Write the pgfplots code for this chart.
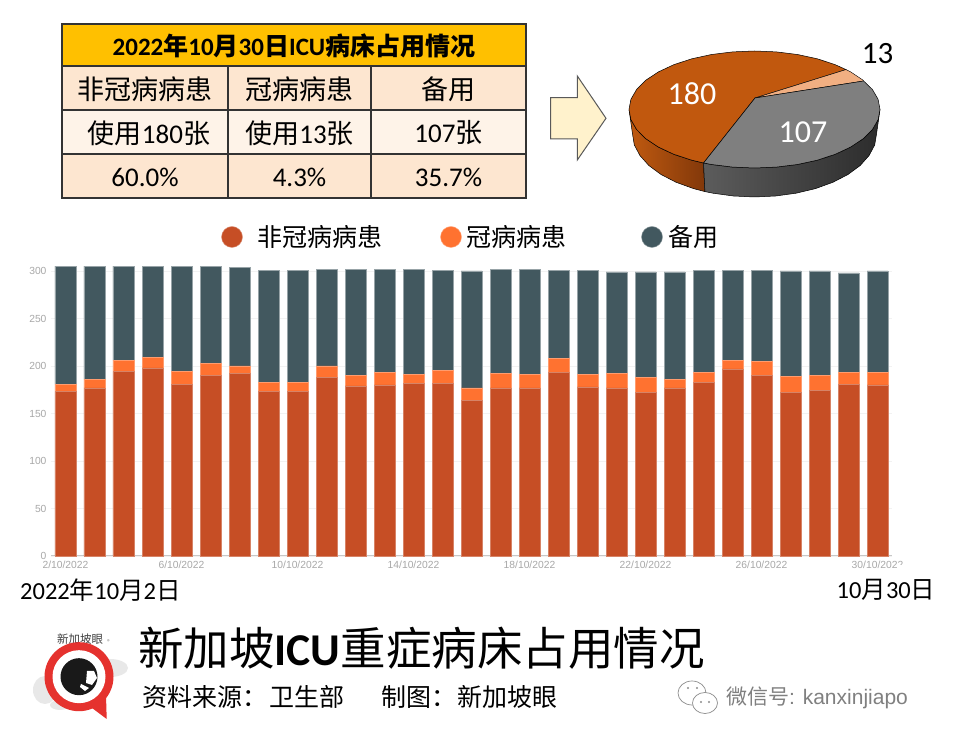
\documentclass[border=0pt]{standalone}
\usepackage{fontspec}
\usepackage{pgfplots}
\usepackage{pgfplotstable}
\pgfplotsset{compat=1.18}
\setmainfont{Carlito}
\newfontfamily\cj{Noto Sans CJK SC}
\newfontfamily\ar{Liberation Sans}
\newcommand{\fs}[1]{\fontsize{#1}{#1}\selectfont}
\definecolor{cred}{HTML}{C64E25}
\definecolor{corg}{HTML}{FF7230}
\definecolor{cdark}{HTML}{42585F}
\definecolor{tickg}{HTML}{A8A8A8}
\definecolor{pieR}{RGB}{193,88,14}
\definecolor{pieRa}{RGB}{192,90,16}
\definecolor{pieRb}{RGB}{130,56,10}
\definecolor{pieGa}{RGB}{92,92,92}
\definecolor{pieGb}{RGB}{44,44,44}
\definecolor{pieO}{RGB}{241,175,130}
\definecolor{pieG}{RGB}{127,127,127}
\definecolor{tHead}{RGB}{255,192,0}
\definecolor{tA}{RGB}{253,230,208}
\definecolor{tB}{RGB}{254,243,232}
\definecolor{arrowF}{RGB}{255,242,204}
\definecolor{logoR}{RGB}{229,50,46}
\pgfplotstableread{
day noncovid covid spare
2 173 8 124
3 177 9 119
4 194 12 99
5 198 11 96
6 181 13 111
7 190 13 102
8 192 8 104
9 173 10 118
10 173 10 118
11 188 12 102
12 179 11 112
13 180 13 109
14 182 9 111
15 182 13 106
16 164 13 123
17 177 15 110
18 177 14 111
19 193 15 93
20 178 13 110
21 177 15 107
22 172 16 111
23 177 9 113
24 183 10 108
25 197 9 95
26 190 15 96
27 172 17 111
28 174 16 110
29 181 12 105
30 180 13 107
}\beds
\begin{document}
\begin{tikzpicture}
\useasboundingbox (0,0) rectangle (959pt,741pt);
\fill[white] (0,0) rectangle (959pt,741pt);
% ---------- stacked bars
\begin{axis}[
  at={(51pt,185pt)}, anchor=south west,
  scale only axis, width=841pt, height=289.75pt,
  xmin=1.5, xmax=30.5, ymin=0, ymax=305,
  ybar stacked, bar width=21pt, clip=false,
  axis x line*=bottom, axis y line*=left,
  y axis line style={draw=none},
  x axis line style={draw=black!22, line width=1pt, -},
  xtick={2,6,10,14,18,22,26,30},
  xticklabels={2/10/2022,6/10/2022,10/10/2022,14/10/2022,18/10/2022,22/10/2022,26/10/2022,30/10/2022},
  ytick={0,50,100,150,200,250,300},
  xtick style={draw=black!22, line width=.8pt},
  ytick style={draw=none},
  major tick length=5pt,
  ymajorgrids, grid style={draw=black!5, line width=.7pt},
  tick label style={font=\ar\fs{10.3}, text=tickg},
  /pgf/number format/assume math mode=true,
  xticklabel style={yshift=-1.5pt},
  yticklabel style={xshift=-1pt},
]
\addplot[fill=cred, draw=cred!70!white, line width=.6pt] table[x=day,y=noncovid] {\beds};
\addplot[fill=corg, draw=corg!70!white, line width=.6pt] table[x=day,y=covid] {\beds};
\addplot[fill=cdark, draw=cdark!55!white, line width=.6pt] table[x=day,y=spare] {\beds};
\end{axis}
% ---------- pixel canvas axis: pie and legend discs
\begin{axis}[
  at={(0,0)}, anchor=south west,
  scale only axis, width=959pt, height=741pt,
  xmin=0, xmax=959, ymin=0, ymax=741, y dir=reverse,
  hide axis, clip=false, no markers,
]
% side of the pie
\addplot[left color=pieRa, right color=pieRb, draw=black, line width=.5pt] coordinates {
(629,109.5)(630.9,119.7)(636.6,129.5)(645.8,138.75)(658.4,147.1)(673.8,154.3)(691.8,160.2)(703.5,163)
(704.9,191.6)(693.5,188.6)(676.1,182.3)(661,174.5)(648.8,165.5)(639.9,155.5)(634.3,144.9)(632.5,134)(629,109.5)};
\addplot[left color=pieGa, right color=pieGb, draw=black, line width=.5pt] coordinates {
(703.5,163)(711.6,164.5)(732.7,167.1)(754.5,168)(776.3,167.1)(797.4,164.5)(817.3,160.2)(835.2,154.3)(850.6,147.1)(863.2,138.75)(872.4,129.5)(878.1,119.7)(880,109.5)
(876.5,134)(874.7,144.9)(869.1,155.5)(860.2,165.5)(848,174.5)(832.9,182.3)(815.5,188.6)(796.2,193.2)(775.7,196)(754.5,197)(733.3,196)(712.8,193.2)(704.9,191.6)(703.5,163)};
% top of the pie
\addplot[fill=pieR, draw=black, line width=.5pt] coordinates {
(755,98)(846,69.6)(835.2,64.7)(817.3,58.8)(797.4,54.5)(776.3,51.9)(754.5,51)(732.7,51.9)(711.6,54.5)(691.8,58.8)(673.8,64.7)(658.4,71.9)(645.8,80.25)(636.6,89.5)(630.9,99.3)(629,109.5)(630.9,119.7)(636.6,129.5)(645.8,138.75)(658.4,147.1)(673.8,154.3)(691.8,160.2)(703.5,163)(755,98)};
\addplot[fill=pieO, draw=black, line width=.4pt] coordinates {
(755,98)(846,69.6)(850.6,71.9)(863.2,80.25)(863.6,81)(755,98)};
\addplot[fill=pieG, draw=black, line width=.5pt] coordinates {
(755,98)(863.6,81)(872.4,89.5)(878.1,99.3)(880,109.5)(878.1,119.7)(872.4,129.5)(863.2,138.75)(850.6,147.1)(835.2,154.3)(817.3,160.2)(797.4,164.5)(776.3,167.1)(754.5,168)(732.7,167.1)(711.6,164.5)(703.5,163)(755,98)};
% legend discs
\addplot[only marks, mark=*, mark size=10.5pt, mark options={fill=cred, draw=cred!60!white}] coordinates {(232,237)};
\addplot[only marks, mark=*, mark size=10.5pt, mark options={fill=corg, draw=corg!60!white}] coordinates {(451,237)};
\addplot[only marks, mark=*, mark size=10.5pt, mark options={fill=cdark, draw=cdark!60!white}] coordinates {(652,237)};
\end{axis}
% ---------- everything else in pixel coordinates
\begin{scope}[shift={(0,741pt)}, x=1pt, y=-1pt]
% table
\fill[tHead] (62,24) rectangle (526,66);
\fill[tA] (62,66) rectangle (526,110);
\fill[tB] (62,110) rectangle (526,154);
\fill[tA] (62,154) rectangle (526,198);
\draw[black!80, line width=1.3pt] (62,24) rectangle (526,198)
  (62,66)--(526,66) (62,110)--(526,110) (62,154)--(526,154)
  (228,66)--(228,198) (371,66)--(371,198);
\node at (294,46) {\fs{25}\bfseries 2022{\cj 年}10{\cj 月}30{\cj 日}ICU{\cj 病床占用情况}};
\node at (145,89) {\fs{27}\cj 非冠病病患};
\node at (299.5,89) {\fs{27}\cj 冠病病患};
\node at (448.5,89) {\fs{27}\cj 备用};
\node at (149,133) {\fs{27}{\cj 使用}180{\cj 张}};
\node at (299.5,133) {\fs{27}{\cj 使用}13{\cj 张}};
\node at (448.5,133) {\fs{27}107{\cj 张}};
\node at (145,177) {\fs{27}60.0\%};
\node at (299.5,177) {\fs{27}4.3\%};
\node at (448.5,177) {\fs{27}35.7\%};
% arrow
\draw[fill=arrowF, draw=black!65, line width=1pt]
  (550.7,97.7)--(577.3,97.7)--(577.3,76)--(606,118.3)--(577.3,160)--(577.3,139)--(550.7,139)--cycle;
% pie labels
\node at (877.7,53.3) {\fs{31}13};
\node[text=white] at (692,94) {\fs{32}180};
\node[text=white] at (803,132.7) {\fs{32}107};
% legend text
\node[anchor=west,inner sep=0] at (257,237) {\fs{25}\cj 非冠病病患};
\node[anchor=west,inner sep=0] at (466,237) {\fs{25}\cj 冠病病患};
\node[anchor=west,inner sep=0] at (668,237) {\fs{25}\cj 备用};
% dates
\fill[white] (897,565) rectangle (945,583);
\node[anchor=west,inner sep=0] at (20,590) {\fs{24.5}2022{\cj 年}10{\cj 月}2{\cj 日}};
\node[anchor=west,inner sep=0] at (836.5,590) {\fs{24.5}10{\cj 月}30{\cj 日}};
% title
\node[anchor=west,inner sep=0] at (138,648) {\fs{45.5}{\cj 新加坡}\textbf{ICU}{\cj 重症病床占用情况}};
\node[anchor=west,inner sep=0] at (142,697) {\fs{25}\cj 资料来源：};
\node[anchor=west,inner sep=0] at (269,697) {\fs{25}\cj 卫生部};
\node[anchor=west,inner sep=0] at (381,697) {\fs{25}\cj 制图：};
\node[anchor=west,inner sep=0] at (457,697) {\fs{25}\cj 新加坡眼};
% watermark
\node[anchor=west,inner sep=0,text=black!50] at (726,698) {\fs{21}{\cj 微信号}{\ar : kanxinjiapo}};
\draw[black!45, fill=white, line width=.7pt] (692,693) ellipse (14 and 12);
\draw[black!45, fill=white, line width=.7pt] (705,703) ellipse (12.5 and 10.5);
\fill[black!45] (688,688) circle (1.1) (697,688) circle (1.1) (701,702) circle (1.1) (709,702) circle (1.1);
% logo
\fill[black!9] (110,668) ellipse (18 and 9) (45,690) ellipse (12 and 14) (60,705) ellipse (10 and 5);
\node[text=black!75] at (80,639) {\fs{11.5}\cj 新加坡眼};
\node[text=black!55] at (109,642) {\fs{7}®};
\fill[logoR] (79,676.7) circle (34.5);
\fill[logoR] (88,705) -- (106.7,719) -- (106,695) -- cycle;
\fill[white] (79,676.7) circle (26.5);
\fill[black!90] (79,676.7) circle (18.5);
\fill[white] (87,671) -- (94,671) -- (97,678) -- (92,685) -- (86,683) -- cycle;
\fill[white] (81,684) -- (89,688) -- (85,691) -- (80,687) -- cycle;
\end{scope}
\end{tikzpicture}
\end{document}
